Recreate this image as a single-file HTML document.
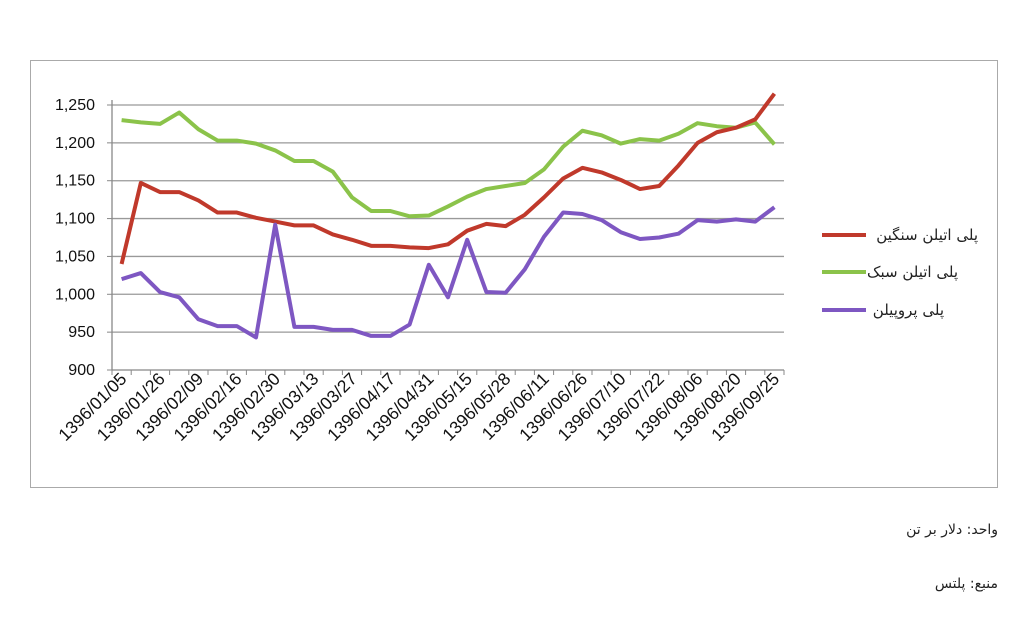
<!DOCTYPE html>
<html><head><meta charset="utf-8"><style>
html,body{margin:0;padding:0;background:#fff;}
svg{display:block;font-family:"Liberation Sans","DejaVu Sans",sans-serif;}
</style></head><body>
<svg id="chart" width="1024" height="623" viewBox="0 0 1024 623" xmlns="http://www.w3.org/2000/svg">
<rect x="30.5" y="60.5" width="967" height="427" fill="#fff" stroke="#aaa" stroke-width="1"/>
<g id="grid"></g><g id="axes"></g><g id="series"></g>
<g font-size="15" fill="#222" font-family="'DejaVu Sans',sans-serif">
<line x1="822" y1="235" x2="866" y2="235" stroke="#C0392B" stroke-width="4"/>
<text x="978" y="240" text-anchor="end">پلی اتیلن سنگین</text>
<line x1="822" y1="272" x2="866" y2="272" stroke="#8BC34A" stroke-width="4"/>
<text x="958" y="277" text-anchor="end">پلی اتیلن سبک</text>
<line x1="822" y1="310" x2="866" y2="310" stroke="#7E57C2" stroke-width="4"/>
<text x="944" y="315" text-anchor="end">پلی پروپیلن</text>
</g>
<text x="998" y="534" text-anchor="end" font-size="14" fill="#222" font-family="'DejaVu Sans',sans-serif">واحد: دلار بر تن</text>
<text x="998" y="588" text-anchor="end" font-size="14" fill="#222" font-family="'DejaVu Sans',sans-serif">منبع: پلتس</text>
</svg>
<script>
const labels=["1396/01/05","","1396/01/26","","1396/02/09","","1396/02/16","","1396/02/30","","1396/03/13","","1396/03/27","","1396/04/17","","1396/04/31","","1396/05/15","","1396/05/28","","1396/06/11","","1396/06/26","","1396/07/10","","1396/07/22","","1396/08/06","","1396/08/20","","1396/09/25"];
const heavy=[1040,1147,1135,1135,1124,1108,1108,1101,1096,1091,1091,1079,1072,1064,1064,1062,1061,1066,1084,1093,1090,1105,1128,1153,1167,1161,1151,1139,1143,1170,1200,1214,1220,1231,1265];
const light=[1230,1227,1225,1240,1218,1203,1203,1199,1190,1176,1176,1162,1128,1110,1110,1103,1104,1116,1129,1139,1143,1147,1165,1195,1216,1210,1199,1205,1203,1212,1226,1222,1220,1227,1198];
const pp=[1020,1028,1003,996,967,958,958,943,1092,957,957,953,953,945,945,960,1039,996,1072,1003,1002,1033,1076,1108,1106,1098,1082,1073,1075,1080,1098,1096,1099,1096,1115];
const yTicks=[900,950,1000,1050,1100,1150,1200,1250];
const NS="http://www.w3.org/2000/svg";
const X0=112,X1=784,Y0=370,Y1=105,VMIN=900,VMAX=1250;
const n=labels.length,step=(X1-X0)/n;
const x=i=>X0+step*(i+0.5);
const y=v=>Y0-(v-VMIN)/(VMAX-VMIN)*(Y0-Y1);
function mk(tag,attrs,parent){const e=document.createElementNS(NS,tag);for(const k in attrs)e.setAttribute(k,attrs[k]);parent.appendChild(e);return e;}
const grid=document.getElementById('grid'),axes=document.getElementById('axes'),ser=document.getElementById('series');
yTicks.forEach(t=>{
  if(t!==VMIN){const g=mk('line',{x1:X0,x2:X1,y1:y(t),y2:y(t),stroke:'#999','stroke-width':1.3},grid);
  
  }
  const tl=mk('line',{x1:X0-5,x2:X0,y1:y(t),y2:y(t),stroke:'#888'},axes);
  
  
  const tx=mk('text',{x:X0-17,y:y(t)+5,'text-anchor':'end','font-size':16,fill:'#111'},axes);
  tx.textContent=t.toLocaleString('en-US');
  
  
});
const ya=mk('line',{x1:X0,x2:X0,y1:Y1-5,y2:Y0,stroke:'#888','stroke-width':1.3},axes);


const xa=mk('line',{x1:X0,x2:X1,y1:Y0,y2:Y0,stroke:'#888','stroke-width':1.3},axes);


for(let i=0;i<=n;i++){const t=mk('line',{x1:X0+step*i,x2:X0+step*i,y1:Y0,y2:Y0+5,stroke:'#888'},axes);
  
  }
labels.forEach((l,i)=>{if(!l)return;
  const px=x(i)+6,py=Y0+10;
  const t=mk('text',{x:px,y:py,'text-anchor':'end','font-size':17.5,fill:'#111',transform:`rotate(-45 ${px} ${py})`},axes);
  t.textContent=l;
  
  
});
[[light,'#8BC34A','series-light-pe'],[heavy,'#C0392B','series-heavy-pe'],[pp,'#7E57C2','series-polypropylene']].forEach(([d,c,nm])=>{
  const p=mk('polyline',{points:d.map((v,i)=>x(i)+','+y(v)).join(' '),fill:'none',stroke:c,'stroke-width':4,'stroke-linejoin':'round'},ser);
  
  
});
</script>
</body></html>
